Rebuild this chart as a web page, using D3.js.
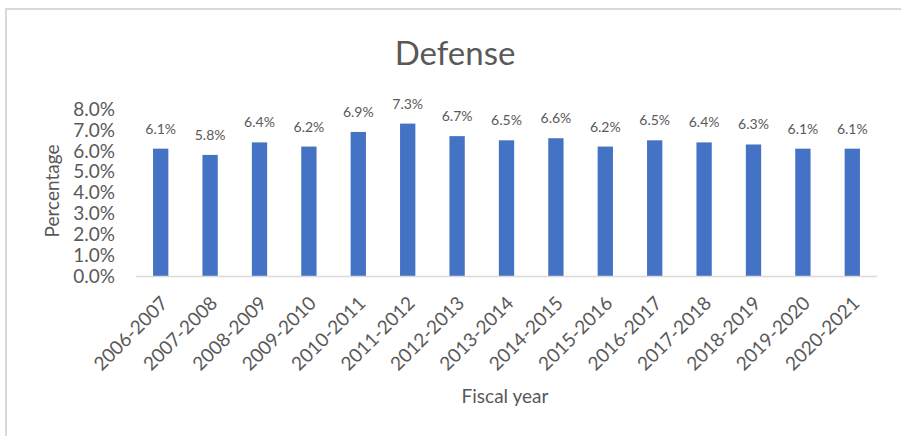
<!DOCTYPE html>
<html>
<head>
<meta charset="utf-8">
<script src="https://cdn.jsdelivr.net/npm/d3@7"></script>
<style>
  body { margin: 0; background: #fff; }
  svg text { font-family: Lato, "Noto Sans", sans-serif; fill: #595959; }
</style>
</head>
<body>
<div id="chart"></div>
<script>
// data
const years = ["2006-2007", "2007-2008", "2008-2009", "2009-2010", "2010-2011",
  "2011-2012", "2012-2013", "2013-2014", "2014-2015", "2015-2016",
  "2016-2017", "2017-2018", "2018-2019", "2019-2020", "2020-2021"];
const defenseShare = [6.1, 5.8, 6.4, 6.2, 6.9, 7.3, 6.7, 6.5, 6.6, 6.2, 6.5, 6.4, 6.3, 6.1, 6.1];
const yTicks = [0, 1, 2, 3, 4, 5, 6, 7, 8];

const width = 901, height = 436;
const plot = { left: 136, right: 877, top: 109, bottom: 276 };

const svg = d3.select("#chart").append("svg")
  .attr("width", width)
  .attr("height", height);

// chart frame
svg.append("rect")
  .attr("x", 6).attr("y", 9)
  .attr("width", width + 10).attr("height", height + 10)
  .attr("fill", "none")
  .attr("stroke", "#d9d9d9")
  .attr("stroke-width", 2);

const x = d3.scaleBand()
  .domain(years)
  .range([plot.left, plot.right])
  .paddingInner(0.69)
  .paddingOuter(0.345);

const y = d3.scaleLinear()
  .domain([0, 8])
  .range([plot.bottom, plot.top]);

// title
svg.append("text")
  .attr("x", 455).attr("y", 65)
  .attr("text-anchor", "middle")
  .style("font-size", "33px")
  .text("Defense");

// y axis labels
svg.append("g")
  .selectAll("text")
  .data(yTicks)
  .join("text")
  .attr("x", 115)
  .attr("y", d => y(d))
  .attr("dy", "0.36em")
  .attr("text-anchor", "end")
  .style("font-size", "19px")
  .text(d => d.toFixed(1) + "%");

// bars
svg.append("g")
  .selectAll("rect")
  .data(defenseShare)
  .join("rect")
  .attr("x", (d, i) => x(years[i]))
  .attr("y", d => y(d))
  .attr("width", x.bandwidth())
  .attr("height", d => y(0) - y(d))
  .attr("fill", "#4472c4");

// baseline
svg.append("line")
  .attr("x1", plot.left).attr("x2", plot.right)
  .attr("y1", y(0) + 0.5).attr("y2", y(0) + 0.5)
  .attr("stroke", "#d9d9d9")
  .attr("stroke-width", 1.5);

// value labels
svg.append("g")
  .selectAll("text")
  .data(defenseShare)
  .join("text")
  .attr("x", (d, i) => x(years[i]) + x.bandwidth() / 2)
  .attr("y", d => y(d) - 15)
  .attr("text-anchor", "middle")
  .style("font-size", "14px")
  .text(d => d.toFixed(1) + "%");

// x axis labels, rotated
svg.append("g")
  .selectAll("text")
  .data(years)
  .join("text")
  .attr("transform", d => `translate(${x(d) + x.bandwidth() / 2 - 1},${plot.bottom + 19}) rotate(-45)`)
  .attr("text-anchor", "end")
  .attr("dy", "0.7em")
  .style("font-size", "19px")
  .text(d => d);

// axis titles
svg.append("text")
  .attr("transform", "translate(59,191) rotate(-90)")
  .attr("text-anchor", "middle")
  .style("font-size", "19px")
  .text("Percentage");

svg.append("text")
  .attr("x", 505).attr("y", 403)
  .attr("text-anchor", "middle")
  .style("font-size", "19px")
  .text("Fiscal year");
</script>
</body>
</html>
